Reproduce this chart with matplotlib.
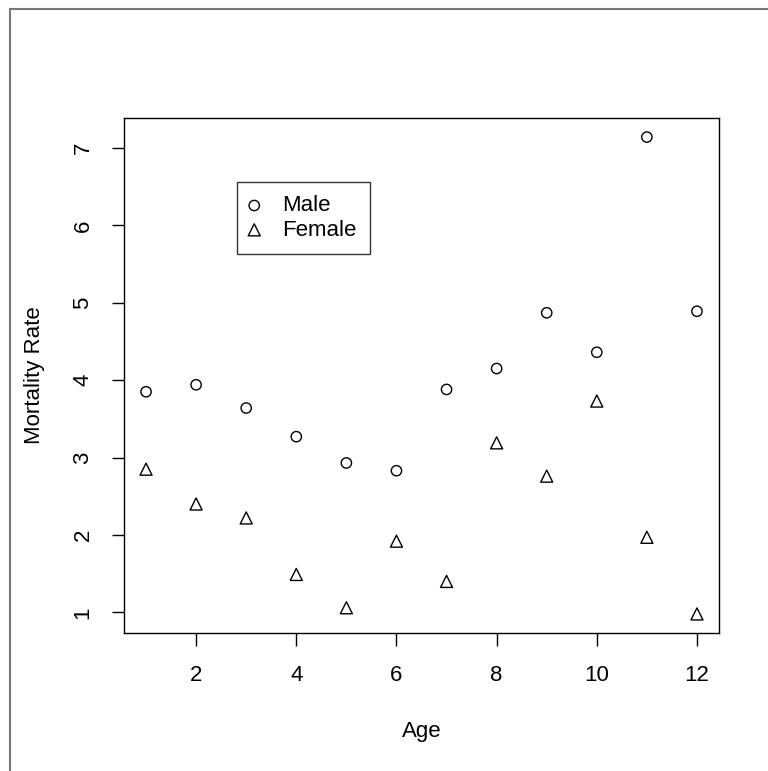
import matplotlib
matplotlib.use("Agg")
import matplotlib.pyplot as plt
from matplotlib.lines import Line2D

age = [1, 2, 3, 4, 5, 6, 7, 8, 9, 10, 11, 12]
male = [3.85, 3.94, 3.64, 3.27, 2.93, 2.83, 3.88, 4.15, 4.87, 4.36, 7.14, 4.89]
female = [2.85, 2.40, 2.22, 1.49, 1.06, 1.92, 1.40, 3.19, 2.76, 3.73, 1.97, 0.98]
xticks = [2, 4, 6, 8, 10, 12]
yticks = [1, 2, 3, 4, 5, 6, 7]

plt.rcParams['font.family'] = ['Liberation Sans', 'DejaVu Sans']

W, H = 768, 771
fig = plt.figure(figsize=(W / 100, H / 100), dpi=100)

# gray outer frame (only left and top visible)
fig.add_artist(Line2D([10 / W, 10 / W], [0, 1 - 9 / H], transform=fig.transFigure,
                      color='#777777', lw=1.5))
fig.add_artist(Line2D([10 / W, 1], [1 - 9 / H, 1 - 9 / H], transform=fig.transFigure,
                      color='#777777', lw=1.5))

ax = fig.add_axes([124 / W, 1 - 633 / H, (719 - 124) / W, (633 - 118) / H])

ax.scatter(age, male, marker='o', s=55, facecolors='none', edgecolors='black',
           linewidths=1.0, label='Male')
ax.scatter(age, female, marker='^', s=75, facecolors='none', edgecolors='black',
           linewidths=1.0, label='Female')

xr = max(age) - min(age)
ax.set_xlim(min(age) - 0.04 * xr, max(age) + 0.04 * xr)
lo = min(min(male), min(female))
hi = max(max(male), max(female))
ax.set_ylim(lo - 0.04 * (hi - lo), hi + 0.04 * (hi - lo))

ax.set_xticks(xticks)
ax.set_yticks(yticks)
ax.set_yticklabels([str(v) for v in yticks], rotation=90, va='center')
ax.tick_params(length=9, width=1, labelsize=16)
ax.tick_params(axis='x', pad=14)
ax.tick_params(axis='y', pad=13)
for s in ax.spines.values():
    s.set_linewidth(1)

ax.set_xlabel('Age', fontsize=16, labelpad=25)
ax.set_ylabel('Mortality Rate', fontsize=16, labelpad=20)

leg = ax.legend(loc='upper left', bbox_to_anchor=((237 - 124) / (719 - 124), 1 - (182 - 118) / (633 - 118)),
                frameon=True, fancybox=False, edgecolor='black', fontsize=16,
                handletextpad=1.08, borderpad=0.6, labelspacing=0.15, handlelength=0.35,
                borderaxespad=0)
leg.get_frame().set_linewidth(1)

fig.savefig('out.png', dpi=100)
